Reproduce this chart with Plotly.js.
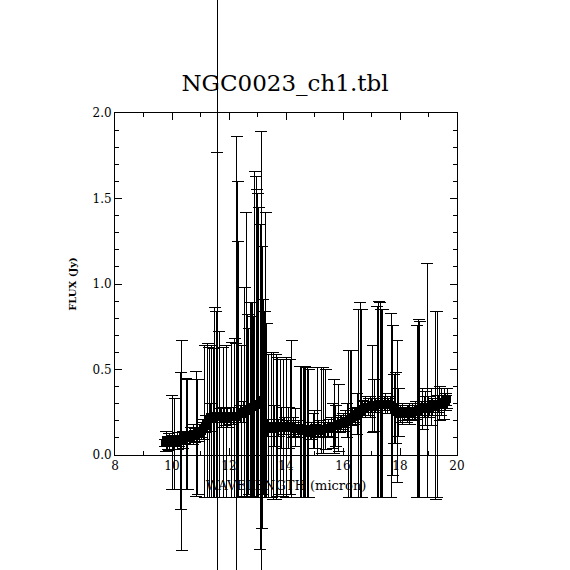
<!DOCTYPE html>
<html>
<head>
<meta charset="utf-8">
<script src="https://cdn.plot.ly/plotly-3.0.1.min.js"></script>
<style>
html,body{margin:0;padding:0;background:#fff;}
#chart{width:570px;height:570px;}
#chart .errorbar path{shape-rendering:crispEdges;}
#chart path.point{shape-rendering:crispEdges;}
#chart .xtick, #chart .ytick{shape-rendering:crispEdges;}
</style>
</head>
<body>
<div id="chart"></div>
<script>
// Wavelength (micron)
var wave = [
  9.75, 9.80, 9.85, 9.90, 9.95, 10.00, 10.05, 10.10, 10.15, 10.20,
  10.25, 10.30, 10.35, 10.40, 10.45, 10.50, 10.55, 10.60, 10.65, 10.70,
  10.75, 10.80, 10.85, 10.90, 10.95, 11.00, 11.05, 11.10, 11.15, 11.20,
  11.25, 11.30, 11.35, 11.40, 11.45, 11.50, 11.55, 11.58, 11.60, 11.65,
  11.70, 11.75, 11.80, 11.85, 11.90, 11.95, 12.00, 12.05, 12.10, 12.15,
  12.20, 12.25, 12.28, 12.30, 12.33, 12.40, 12.45, 12.50, 12.55, 12.60,
  12.65, 12.70, 12.75, 12.78, 12.82, 12.85, 12.90, 12.95, 12.97, 13.00,
  13.05, 13.10, 13.13, 13.16, 13.20, 13.25, 13.29, 13.32, 13.36, 13.40,
  13.45, 13.50, 13.55, 13.60, 13.65, 13.70, 13.75, 13.80, 13.85, 13.90,
  13.95, 14.00, 14.05, 14.10, 14.15, 14.20, 14.25, 14.30, 14.35, 14.40,
  14.45, 14.50, 14.55, 14.60, 14.65, 14.70, 14.75, 14.80, 14.85, 14.90,
  14.95, 15.00, 15.05, 15.10, 15.15, 15.20, 15.25, 15.30, 15.35, 15.40,
  15.45, 15.50, 15.55, 15.60, 15.65, 15.70, 15.75, 15.80, 15.85, 15.90,
  15.95, 16.00, 16.05, 16.10, 16.15, 16.20, 16.25, 16.30, 16.35, 16.40,
  16.45, 16.50, 16.55, 16.60, 16.65, 16.70, 16.75, 16.80, 16.85, 16.90,
  16.95, 17.00, 17.05, 17.10, 17.15, 17.20, 17.25, 17.30, 17.35, 17.40,
  17.45, 17.50, 17.55, 17.60, 17.65, 17.70, 17.75, 17.80, 17.85, 17.90,
  17.95, 18.00, 18.05, 18.10, 18.15, 18.20, 18.25, 18.30, 18.35, 18.40,
  18.45, 18.50, 18.55, 18.60, 18.65, 18.70, 18.75, 18.80, 18.85, 18.90,
  18.95, 19.00, 19.05, 19.10, 19.15, 19.20, 19.25, 19.30, 19.35, 19.40,
  19.45, 19.50, 19.55, 19.60, 19.62, 19.65
];
// Flux (Jy)
var flux = [
  0.07, 0.08, 0.07, 0.075, 0.08, 0.08, 0.075, 0.08, 0.085, 0.08,
  0.09, 0.08, 0.08, 0.09, 0.10, 0.11, 0.11, 0.10, 0.11, 0.11,
  0.12, 0.115, 0.12, 0.12, 0.13, 0.13, 0.14, 0.15, 0.17, 0.18,
  0.20, 0.21, 0.22, 0.21, 0.22, 0.22, 0.23, 0.22, 0.22, 0.22,
  0.23, 0.22, 0.21, 0.22, 0.21, 0.22, 0.22, 0.23, 0.22, 0.23,
  0.22, 0.22, 0.23, 0.22, 0.23, 0.24, 0.24, 0.25, 0.25, 0.26,
  0.26, 0.27, 0.27, 0.28, 0.28, 0.28, 0.28, 0.29, 0.29, 0.30,
  0.30, 0.31, 0.31, 0.32, 0.32, 0.18, 0.17, 0.17, 0.16, 0.17,
  0.16, 0.17, 0.16, 0.17, 0.16, 0.17, 0.16, 0.17, 0.16, 0.16,
  0.17, 0.16, 0.17, 0.16, 0.17, 0.16, 0.16, 0.15, 0.16, 0.15,
  0.15, 0.15, 0.14, 0.15, 0.14, 0.15, 0.14, 0.14, 0.13, 0.14,
  0.14, 0.15, 0.14, 0.14, 0.15, 0.14, 0.15, 0.15, 0.15, 0.15,
  0.15, 0.16, 0.16, 0.16, 0.17, 0.17, 0.17, 0.18, 0.18, 0.18,
  0.19, 0.19, 0.19, 0.20, 0.20, 0.21, 0.21, 0.22, 0.22, 0.23,
  0.23, 0.24, 0.25, 0.25, 0.26, 0.27, 0.27, 0.28, 0.28, 0.28,
  0.28, 0.29, 0.28, 0.29, 0.29, 0.29, 0.30, 0.30, 0.29, 0.30,
  0.30, 0.30, 0.29, 0.30, 0.29, 0.29, 0.28, 0.27, 0.26, 0.25,
  0.25, 0.24, 0.25, 0.24, 0.24, 0.25, 0.24, 0.25, 0.24, 0.25,
  0.25, 0.25, 0.26, 0.26, 0.27, 0.27, 0.27, 0.27, 0.28, 0.27,
  0.27, 0.28, 0.27, 0.28, 0.28, 0.29, 0.29, 0.30, 0.30, 0.30,
  0.31, 0.31, 0.30, 0.31, 0.32, 0.33
];
// Upper flux uncertainty (Jy)
var errUp = [
  0.02, 0.06, 0.04, 0.05, 0.03, 0.27, 0.04, 0.25, 0.03, 0.05,
  0.04, 0.40, 0.59, 0.05, 0.03, 0.34, 0.33, 0.04, 0.05, 0.03,
  0.06, 0.04, 0.37, 0.32, 0.05, 0.03, 0.05, 0.06, 0.47, 0.05,
  0.45, 0.42, 0.08, 0.43, 0.40, 0.64, 0.61, 1.55, 3.00, 0.50,
  0.04, 0.06, 0.42, 0.05, 0.43, 0.06, 0.03, 0.05, 0.44, 0.05,
  0.46, 0.43, 1.63, 1.38, 1.02, 0.05, 0.40, 0.06, 0.73, 1.16,
  0.56, 0.47, 0.62, 0.61, 0.61, 0.53, 1.38, 1.34, 1.26, 1.23,
  1.15, 1.04, 1.58, 0.90, 0.59, 0.66, 1.25, 0.60, 0.05, 0.42,
  0.03, 0.43, 0.44, 0.12, 0.43, 0.40, 0.05, 0.39, 0.12, 0.40,
  0.05, 0.41, 0.03, 0.12, 0.39, 0.51, 0.06, 0.04, 0.11, 0.03,
  0.05, 0.37, 0.38, 0.37, 0.38, 0.36, 0.37, 0.36, 0.04, 0.05,
  0.10, 0.11, 0.04, 0.37, 0.05, 0.03, 0.36, 0.36, 0.04, 0.35,
  0.04, 0.05, 0.03, 0.06, 0.13, 0.27, 0.12, 0.04, 0.23, 0.05,
  0.04, 0.05, 0.03, 0.06, 0.10, 0.40, 0.40, 0.39, 0.05, 0.04,
  0.05, 0.12, 0.60, 0.64, 0.59, 0.05, 0.04, 0.06, 0.03, 0.05,
  0.06, 0.04, 0.36, 0.15, 0.04, 0.58, 0.60, 0.59, 0.56, 0.55,
  0.04, 0.06, 0.05, 0.03, 0.05, 0.54, 0.48, 0.20, 0.22, 0.42,
  0.14, 0.05, 0.03, 0.06, 0.04, 0.03, 0.05, 0.04, 0.06, 0.03,
  0.05, 0.04, 0.05, 0.50, 0.52, 0.51, 0.04, 0.12, 0.06, 0.10,
  0.85, 0.06, 0.04, 0.11, 0.05, 0.03, 0.55, 0.54, 0.05, 0.10,
  0.08, 0.04, 0.09, 0.05, 0.03, 0.06
];
// Lower flux uncertainty (Jy)
var errDn = [
  0.02, 0.06, 0.04, 0.05, 0.03, 0.28, 0.04, 0.28, 0.03, 0.05,
  0.04, 0.40, 0.64, 0.05, 0.03, 0.31, 0.31, 0.04, 0.05, 0.03,
  0.06, 0.04, 0.36, 0.35, 0.05, 0.03, 0.05, 0.06, 0.42, 0.05,
  0.45, 0.46, 0.08, 0.46, 0.47, 0.47, 0.48, 1.50, 3.00, 0.47,
  0.04, 0.06, 0.46, 0.05, 0.46, 0.06, 0.03, 0.05, 0.47, 0.05,
  0.47, 0.47, 1.50, 0.47, 0.48, 0.05, 0.48, 0.06, 0.50, 0.50,
  0.50, 0.50, 0.52, 0.52, 0.52, 0.52, 0.53, 0.54, 0.54, 0.55,
  0.55, 0.86, 1.40, 0.75, 0.55, 0.43, 0.42, 0.42, 0.05, 0.42,
  0.03, 0.42, 0.42, 0.12, 0.42, 0.41, 0.05, 0.40, 0.12, 0.40,
  0.05, 0.41, 0.03, 0.12, 0.40, 0.41, 0.06, 0.04, 0.11, 0.03,
  0.05, 0.40, 0.39, 0.40, 0.39, 0.40, 0.39, 0.39, 0.04, 0.05,
  0.10, 0.11, 0.04, 0.14, 0.05, 0.03, 0.14, 0.14, 0.04, 0.12,
  0.04, 0.05, 0.03, 0.06, 0.13, 0.16, 0.12, 0.04, 0.16, 0.05,
  0.04, 0.05, 0.03, 0.06, 0.10, 0.46, 0.46, 0.47, 0.05, 0.04,
  0.05, 0.12, 0.50, 0.50, 0.51, 0.05, 0.04, 0.06, 0.03, 0.05,
  0.06, 0.04, 0.15, 0.15, 0.04, 0.54, 0.55, 0.55, 0.54, 0.55,
  0.04, 0.06, 0.05, 0.03, 0.05, 0.54, 0.40, 0.20, 0.19, 0.41,
  0.14, 0.05, 0.03, 0.06, 0.04, 0.03, 0.05, 0.04, 0.06, 0.03,
  0.05, 0.04, 0.05, 0.51, 0.52, 0.52, 0.04, 0.12, 0.06, 0.10,
  0.52, 0.06, 0.04, 0.11, 0.05, 0.03, 0.55, 0.55, 0.05, 0.10,
  0.08, 0.04, 0.09, 0.05, 0.03, 0.06
];
var xTickVals = [8, 10, 12, 14, 16, 18, 20];
var yTickVals = [0.0, 0.5, 1.0, 1.5, 2.0];

var serif = 'DejaVu Serif, Liberation Serif, serif';

var trace = {
  type: 'scatter',
  mode: 'markers',
  x: wave,
  y: flux,
  marker: {size: 8, symbol: 'square', color: '#000', line: {width: 0}},
  cliponaxis: false,
  hoverinfo: 'x+y',
  error_y: {
    type: 'data',
    symmetric: false,
    array: errUp,
    arrayminus: errDn,
    color: '#000',
    thickness: 1,
    width: 6
  },
  showlegend: false
};

var axisCommon = {
  showline: true, linecolor: '#000', linewidth: 1, mirror: 'ticks',
  ticks: 'inside', ticklen: 7, tickwidth: 1, tickcolor: '#000',
  showgrid: false, zeroline: false,
  tickfont: {family: serif, size: 12, color: '#000'}
};

var layout = {
  width: 570, height: 570,
  margin: {l: 115, r: 113, t: 113, b: 115},
  paper_bgcolor: '#fff', plot_bgcolor: '#fff',
  title: {
    text: 'NGC0023_ch1.tbl',
    font: {family: serif, size: 23, color: '#000'},
    x: 0.5, xanchor: 'center', xref: 'container',
    y: 1 - 83 / 570, yanchor: 'middle', yref: 'container'
  },
  xaxis: Object.assign({}, axisCommon, {
    range: [8, 20],
    tickmode: 'array', tickvals: xTickVals, ticktext: xTickVals.map(String),
    minor: {dtick: 1, tick0: 8, ticks: 'inside', ticklen: 4, tickcolor: '#000', tickwidth: 1},
    title: {text: 'WAVELENGTH (micron)', font: {family: serif, size: 13, color: '#000'}, standoff: 8}
  }),
  yaxis: Object.assign({}, axisCommon, {
    range: [0, 2],
    tickmode: 'array', tickvals: yTickVals, ticktext: yTickVals.map(function (v) { return v.toFixed(1); }),
    minor: {dtick: 0.1, tick0: 0, ticks: 'inside', ticklen: 4, tickcolor: '#000', tickwidth: 1},
    title: {text: '<b>FLUX (Jy)</b>', font: {family: serif, size: 10, color: '#000'}, standoff: 14}
  })
};

Plotly.newPlot('chart', [trace], layout, {displayModeBar: false, staticPlot: true}).then(function (gd) {
  // let the error bars run past the frame, as in the original plot
  gd.querySelectorAll('.cartesianlayer [clip-path]').forEach(function (el) {
    el.removeAttribute('clip-path');
  });
  // draw the data layer above the axis labels, as in the original
  var cart = gd.querySelector('.cartesianlayer');
  var infolayer = gd.querySelector('.infolayer');
  if (cart && infolayer && infolayer.parentNode === cart.parentNode) {
    var plotGroup = cart.querySelector('.plot');
    if (plotGroup) {
      var sub = plotGroup.parentNode;
      var holder = document.createElementNS('http://www.w3.org/2000/svg', 'g');
      holder.setAttribute('transform', (sub.getAttribute('transform') || '') + ' ' + (plotGroup.getAttribute('transform') || ''));
      holder.appendChild(plotGroup);
      infolayer.parentNode.appendChild(holder);
    }
  }
});
</script>
</body>
</html>
